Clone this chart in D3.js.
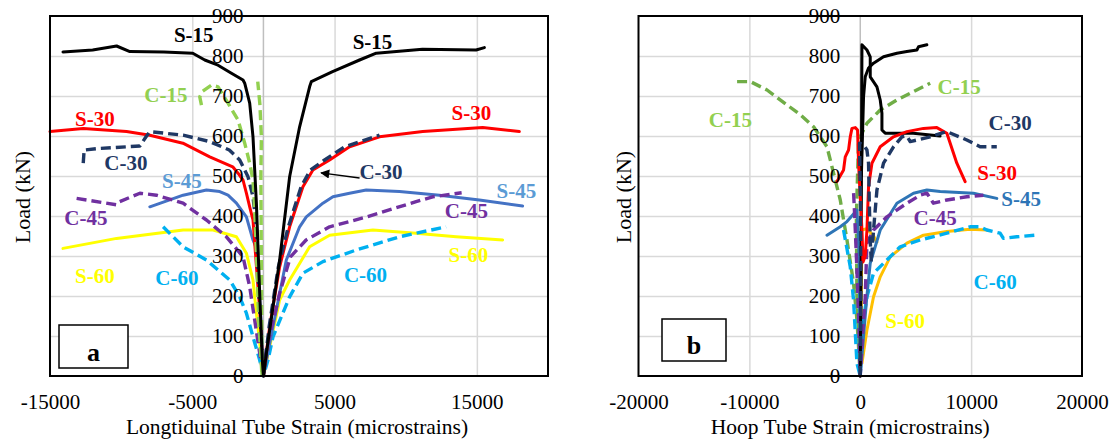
<!DOCTYPE html>
<html><head><meta charset="utf-8">
<script src="https://cdn.jsdelivr.net/npm/d3@7"></script>
<style>
html,body{margin:0;padding:0;background:#fff;}
svg text{font-family:"Liberation Serif","Times New Roman",serif;}
</style></head>
<body><svg id="c" width="1112" height="441"></svg>
<script>
// ---------- DATA: Longitudinal strain (panel a) [strain, load] ----------
const longS15 = [[-14088,810],[-12000,815],[-10320,825],[-9387,811],[-7000,810],[-4965,807],[-4123,790],[-3190,777],[-2249,757],[-1435,740],[-1316,732],[-965,682],[-733,598],[-614,515],[-495,432],[-263,207],[-80,40],[0,0],[207,57],[1140,290],[1842,498],[2544,623],[3246,723],[3365,736],[4860,761],[6755,790],[7927,807],[11176,817],[14945,815],[15528,821]];
const longC15 = [[-4355,677],[-4474,698],[-4263,712],[-3653,727],[-3190,723],[-2488,682],[-1786,640],[-1316,582],[-965,532],[-733,490],[-614,415],[-474,290],[-333,140],[-100,0],[-150,300],[-180,500],[-144,598],[-250,680],[-400,736]];
const longS30 = [[-15000,611],[-12664,619],[-9619,611],[-7983,602],[-5660,582],[-3772,548],[-2158,523],[-1786,507],[-1435,490],[-1197,457],[-965,423],[-733,390],[-263,165],[0,0],[439,123],[1140,273],[1842,373],[2776,473],[3478,515],[4650,540],[6053,573],[8158,598],[11197,611],[15408,621],[17984,611]];
const longC30 = [[-12664,532],[-12600,565],[-11493,569],[-8685,575],[-8214,600],[-7983,611],[-5644,602],[-3772,586],[-2400,565],[-1667,540],[-1084,498],[-733,448],[-495,373],[-263,165],[0,0],[400,123],[1050,273],[1750,373],[2650,473],[3300,515],[4300,540],[5700,573],[8158,602]];
const longS45 = [[-7983,423],[-5644,452],[-4004,465],[-3070,461],[-2488,452],[-1899,432],[-1197,398],[-733,340],[-495,320],[-145,123],[0,0],[673,123],[1609,290],[2544,373],[3014,398],[4180,432],[4884,448],[6053,457],[7224,465],[9562,461],[12370,452],[15177,440],[18215,425]];
const longC45 = [[-13130,444],[-10320,428],[-10100,436],[-8685,457],[-7516,452],[-5644,432],[-4004,390],[-2600,348],[-1433,298],[-965,223],[-614,140],[-263,57],[0,0],[207,65],[1140,207],[1900,298],[3000,340],[4650,373],[7300,398],[10729,436],[11899,448],[13930,458]];
const longS60 = [[-14088,319],[-10320,344],[-5644,365],[-3538,365],[-1899,348],[-1197,307],[-733,240],[-495,157],[0,0],[439,73],[1140,190],[1842,240],[3246,323],[4650,352],[7692,365],[10729,357],[13536,348],[16812,340]];
const longC60 = [[-7049,373],[-5644,323],[-4004,290],[-2368,240],[-1667,198],[-1197,157],[-733,98],[-263,40],[0,0],[321,40],[673,98],[1842,198],[2776,257],[4180,286],[6523,315],[9562,348],[12838,373]];

// ---------- DATA: Hoop strain (panel b) ----------
const hoopS15a = [[0,0],[80,300],[120,600],[153,828],[604,815],[901,798],[901,748],[1505,723],[1802,690],[1955,657],[1955,615],[2252,607],[4775,607],[7200,600]];
const hoopS15b = [[100,500],[297,698],[450,748],[748,770],[1198,782],[2099,798],[3306,807],[4207,811],[5108,815],[5252,823],[6009,828]];
const hoopC15 = [[-11108,736],[-9910,736],[-8405,715],[-5405,653],[-4207,623],[-3000,573],[-2405,507],[-1802,440],[-1198,340],[-604,232],[-297,140],[0,0],[-300,200],[-350,400],[-150,590],[604,632],[1802,665],[3306,690],[4802,711],[6306,732]];
const hoopS30 = [[-2099,486],[-1505,515],[-1351,548],[-1054,565],[-901,598],[-748,619],[-450,621],[-243,615],[-153,532],[0,448],[153,365],[250,285],[450,300],[604,365],[748,473],[1054,532],[1802,573],[3000,598],[4207,611],[5703,619],[6910,621],[7811,607],[8711,532],[9460,486]];
const hoopC30 = [[0,0],[50,200],[30,400],[-63,582],[297,578],[604,565],[748,532],[811,440],[901,340],[991,285],[1198,365],[1505,465],[2099,532],[3000,573],[3757,598],[4207,600],[4505,586],[5108,590],[6306,598],[7811,611],[9613,590],[10811,573],[12315,573]];
const hoopS45 = [[-3000,352],[-1802,373],[-1198,386],[-604,405],[-297,415],[-100,300],[0,0],[300,100],[600,200],[901,282],[1802,365],[3306,432],[4802,457],[6009,465],[7207,461],[10210,457],[12315,444]];
const hoopC45 = [[-600,457],[-500,400],[-350,300],[-150,150],[0,0],[200,100],[450,198],[604,332],[1198,365],[2405,398],[4207,432],[5405,452],[6009,457],[6600,432],[7811,440],[9613,448],[11108,452]];
const hoopS60a = [[0,0],[80,150],[120,280],[100,365],[600,368],[1200,350],[1500,335]];
const hoopS60b = [[153,32],[604,115],[1198,198],[1802,248],[2703,298],[4207,332],[5703,352],[7811,361],[9910,367],[11414,365]];
const hoopC60 = [[-1505,365],[-901,273],[-604,190],[-300,32],[0,0],[153,115],[604,198],[1198,257],[2405,290],[3604,323],[5405,340],[7811,357],[9910,373],[10811,373],[11414,365],[12613,357],[12910,344],[14114,348],[15766,352]];

// ---------- Ticks ----------
const yTicks = [0,100,200,300,400,500,600,700,800,900];
const xTicksL = [-15000,-5000,5000,15000];
const xTicksR = [-20000,-10000,0,10000,20000];
const xGridL = [-5000,5000,15000];
const xGridR = [-10000,10000];

// ---------- Label annotations [text, strain, load] ----------
const labelsL = [["S-15",-4897,835],["C-15",-6860,685],["S-30",-11843,625],["C-30",-9668,515],["S-45",-5737,470],["C-45",-12475,377],["S-60",-11843,232],["C-60",-6088,227],
  ["S-15",7667,817],["S-30",14615,640],["C-30",8263,492],["S-45",17773,445],["C-45",14264,395],["S-60",14404,285],["C-60",7176,235]];
const labelsR = [["C-15",-11712,622],["C-15",8919,705],["C-30",13514,615],["S-30",12342,490],["S-45",14504,425],["C-45",6757,377],["C-60",12162,217],["S-60",4054,120]];

const colL = {"S-15":"#000000","C-15":"#92D050","S-30":"#FF0000","C-30":"#1F3864","S-45":"#5B9BD5","C-45":"#7030A0","S-60":"#FFFF00","C-60":"#00B0F0"};
const colR = {"S-15":"#000000","C-15":"#92D050","S-30":"#FF0000","C-30":"#1F3864","S-45":"#2E75B6","C-45":"#7030A0","S-60":"#FFFF00","C-60":"#00B0F0"};

const svg = d3.select("#c");
const yTop = 16, yBot = 376;
const y = d3.scaleLinear().domain([0,900]).range([yBot, yTop]);
const FONT = "Liberation Serif, Times New Roman, serif";
const fmt = d => String(d);

function panel(xs, xTicks, xGrid, series, labels, colors, box, title, x0){
  const g = svg.append("g");
  const L = xs.range()[0], R = xs.range()[1];
  g.append("g").attr("transform",`translate(${L},0)`)
    .call(d3.axisLeft(y).tickValues(yTicks.slice(1,-1)).tickSize(-(R-L)).tickFormat(""))
    .call(a=>a.select(".domain").remove())
    .selectAll("line").attr("stroke","#d9d9d9").attr("stroke-width",1.5);
  g.append("g").attr("transform",`translate(0,${yBot})`)
    .call(d3.axisBottom(xs).tickValues(xGrid).tickSize(-(yBot-yTop)).tickFormat(""))
    .call(a=>a.select(".domain").remove())
    .selectAll("line").attr("stroke","#d9d9d9").attr("stroke-width",1.5);
  g.append("line").attr("x1",xs(0)).attr("x2",xs(0)).attr("y1",yTop).attr("y2",yBot)
    .attr("stroke","#bfbfbf").attr("stroke-width",1.5);
  const line = d3.line().x(d=>xs(d[0])).y(d=>y(d[1]));
  series.forEach(s=>{
    g.append("path").attr("d",line(s.data)).attr("fill","none")
      .attr("stroke",s.color).attr("stroke-width",s.dash?3.4:3)
      .attr("stroke-linejoin","round").attr("stroke-linecap", s.dash?"butt":"round")
      .attr("stroke-dasharray", s.dash?"10,5":null);
  });
  g.append("rect").attr("x",L).attr("y",yTop).attr("width",R-L).attr("height",yBot-yTop)
    .attr("fill","none").attr("stroke","#000").attr("stroke-width",2);
  g.append("g").attr("transform",`translate(${xs(0)-6},0)`)
    .call(d3.axisLeft(y).tickValues(yTicks).tickSize(0).tickPadding(14).tickFormat(fmt))
    .call(a=>a.select(".domain").remove())
    .selectAll("text").attr("font-size",21).attr("fill","#000").attr("font-family",FONT);
  g.append("g").attr("transform",`translate(0,${yBot})`)
    .call(d3.axisBottom(xs).tickValues(xTicks).tickSize(0).tickPadding(18).tickFormat(fmt))
    .call(a=>a.select(".domain").remove())
    .selectAll("text").attr("font-size",21).attr("fill","#000").attr("font-family",FONT);
  labels.forEach(l=>{
    g.append("text").attr("x",xs(l[1])).attr("y",y(l[2])).attr("text-anchor","middle")
      .attr("font-size",21).attr("font-weight","bold").attr("fill",colors[l[0]]).text(l[0]);
  });
  g.append("text").attr("transform",`translate(${x0},197) rotate(-90)`).attr("text-anchor","middle")
    .attr("dominant-baseline","central").attr("font-size",22).text("Load (kN)");
  g.append("text").attr("x",(L+R)/2 + title.dx).attr("y",434).attr("text-anchor","middle")
    .attr("font-size",21.5).text(title.text);
  g.append("rect").attr("x",box.x).attr("y",box.y).attr("width",box.w).attr("height",box.h)
    .attr("fill","#fff").attr("stroke","#000").attr("stroke-width",1.5);
  g.append("text").attr("x",box.x+box.w/2).attr("y",box.y+box.h-7).attr("text-anchor","middle")
    .attr("font-size",26).attr("font-weight","bold").text(box.t);
  return g;
}

const xL = d3.scaleLinear().domain([-15000,20000]).range([50,548]);
const xR = d3.scaleLinear().domain([-20000,20000]).range([638.5,1082]);

const gL = panel(xL, xTicksL, xGridL, [
  {data:longS60,color:"#FFFF00"},
  {data:longC60,color:"#00B0F0",dash:true},
  {data:longS45,color:"#4472C4"},
  {data:longC45,color:"#7030A0",dash:true},
  {data:longS30,color:"#FF0000"},
  {data:longC30,color:"#1F3864",dash:true},
  {data:longC15,color:"#92D050",dash:true},
  {data:longS15,color:"#000000"}
], labelsL, colL, {x:59,y:325,w:69,h:43,t:"a"}, {text:"Longtiduinal Tube Strain (microstrains)",dx:-2}, 22);

const gR = panel(xR, xTicksR, xGridR, [
  {data:hoopC15,color:"#70AD47",dash:true},
  {data:hoopS60a,color:"#FFC000"},
  {data:hoopS60b,color:"#FFC000"},
  {data:hoopC60,color:"#00B0F0",dash:true},
  {data:hoopS45,color:"#2E75B6"},
  {data:hoopC45,color:"#7030A0",dash:true},
  {data:hoopS15a,color:"#000000"},
  {data:hoopS15b,color:"#000000"},
  {data:hoopS30,color:"#FF0000"},
  {data:hoopC30,color:"#1F3864",dash:true}
], labelsR, colR, {x:662,y:319,w:64,h:42,t:"b"}, {text:"Hoop Tube Strain (microstrains)",dx:-10}, 623);

svg.append("defs").append("marker").attr("id","ah").attr("viewBox","0 0 10 10").attr("refX",9).attr("refY",5)
  .attr("markerWidth",9).attr("markerHeight",7).attr("orient","auto-start-reverse")
  .append("path").attr("d","M0,0 L10,5 L0,10 z").attr("fill","#000");
gL.append("line").attr("x1",xL(6755)).attr("y1",y(495)).attr("x2",xL(4050)).attr("y2",y(508))
  .attr("stroke","#000").attr("stroke-width",1.3).attr("marker-end","url(#ah)");
</script></body></html>
